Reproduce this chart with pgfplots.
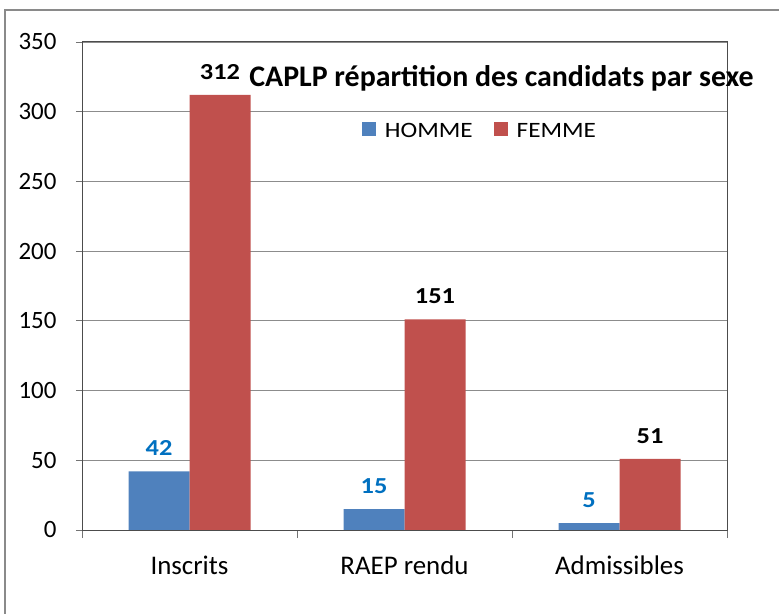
\documentclass[border=0pt]{standalone}
\usepackage{fontspec}
\setmainfont{Carlito}
\newfontfamily\stretchfont{Carlito}[FakeStretch=1.15]
\usepackage{pgfplots}
\pgfplotsset{compat=1.18}
\definecolor{bblue}{HTML}{4F81BD}
\definecolor{bred}{HTML}{C0504D}
\definecolor{lblue}{HTML}{0070C0}
\definecolor{gridgray}{HTML}{8C8C8C}
\definecolor{framegray}{HTML}{8A8A8A}
\begin{document}
\begin{tikzpicture}
\useasboundingbox (0,0) rectangle (779bp,614bp);
\draw[framegray, line width=1.8bp] (5bp,0) -- (5bp,604bp) -- (779bp,604bp);
\begin{axis}[
  at={(82bp,84bp)}, anchor=south west,
  scale only axis, width=645bp, height=488bp,
  ybar=0pt, bar width=61bp,
  xmin=-0.5, xmax=2.5, ymin=0, ymax=350,
  ytick={0,50,...,350},
  xtick={0,1,2}, xticklabels={Inscrits, RAEP rendu, Admissibles},
  minor xtick={-0.5,0.5,1.5,2.5},
  major x tick style={draw=none},
  xtick pos=lower, ytick pos=left,
  tick align=outside, major tick length=6bp, minor tick length=8bp,
  ymajorgrids, grid style={gridgray, line width=0.8bp},
  axis line style={black!70, line width=1bp},
  tick style={black!55, line width=0.8bp},
  /pgf/number format/assume math mode=true,
  yticklabel style={font=\fontsize{25}{30}\selectfont, xshift=-16bp},
  xticklabel style={font=\fontsize{27}{32}\selectfont, yshift=-16bp},
  nodes near coords,
  sqlegend/.style={legend image code/.code={\fill[##1] (0bp,-5.5bp) rectangle (14bp,8.5bp);}},
  legend columns=2,
  legend style={draw=none, fill=none, at={(0.617,0.818)}, anchor=center,
    font=\stretchfont\fontsize{22}{26}\selectfont,
    /tikz/every odd column/.append style={column sep=7bp},
    /tikz/every even column/.append style={column sep=19bp}},
]
\addplot[fill=bblue, draw=none, sqlegend,
  every node near coord/.append style={text=lblue, font=\stretchfont\bfseries\fontsize{23}{26}\selectfont, yshift=12bp}]
  coordinates {(0,42) (1,15) (2,5)};
\addplot[fill=bred, draw=none, sqlegend,
  every node near coord/.append style={text=black, font=\stretchfont\bfseries\fontsize{23}{26}\selectfont, yshift=12bp}]
  coordinates {(0,312) (1,151) (2,51)};
\legend{HOMME, FEMME}
\end{axis}
\node[anchor=base, font=\bfseries\fontsize{30}{34}\selectfont, inner sep=0pt] at (501.5bp,527bp) {CAPLP répartition des candidats par sexe};
\end{tikzpicture}
\end{document}
